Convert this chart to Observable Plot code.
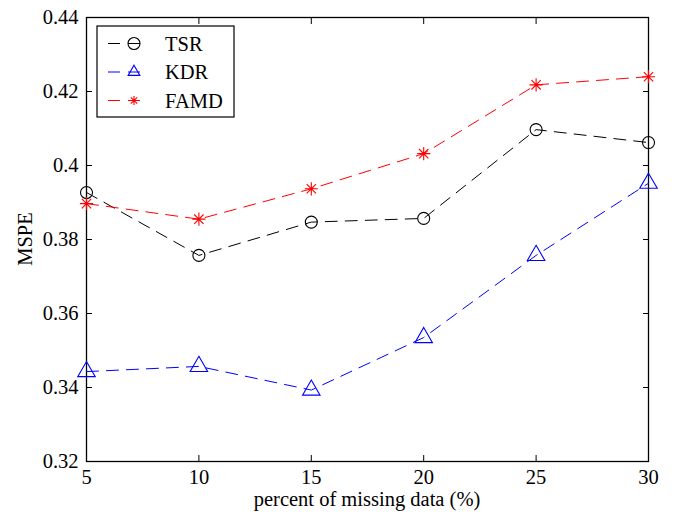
<!DOCTYPE html>
<html>
<head>
<meta charset="utf-8">
<script src="https://cdn.jsdelivr.net/npm/d3@7"></script>
<script src="https://cdn.jsdelivr.net/npm/@observablehq/plot@0.6"></script>
<style>
  html, body { margin: 0; padding: 0; background: #fff; }
  #chart { position: relative; width: 674px; height: 512px; }
  #chart svg text { font-family: 'Liberation Serif', 'Times New Roman', serif; }
</style>
</head>
<body>
<div id="chart"></div>
<script>
const missing = [5, 10, 15, 20, 25, 30];
const tsr  = [0.3927, 0.3757, 0.3847, 0.3857, 0.4097, 0.4062];
const kdr  = [0.3443, 0.3457, 0.3393, 0.3535, 0.3757, 0.3952];
const famd = [0.3897, 0.3855, 0.3937, 0.4032, 0.4218, 0.4240];
const seriesNames = ["TSR", "KDR", "FAMD"];
const seriesColors = ["#000000", "#0000ff", "#ff0000"];
const xTicks = [5, 10, 15, 20, 25, 30];
const yTicks = [0.32, 0.34, 0.36, 0.38, 0.40, 0.42, 0.44];

const asterisk8 = {
  draw(ctx, size) {
    const r = Math.sqrt(size) * 0.62;
    const d = r * Math.SQRT1_2;
    ctx.moveTo(-r, 0); ctx.lineTo(r, 0);
    ctx.moveTo(0, -r); ctx.lineTo(0, r);
    ctx.moveTo(-d, -d); ctx.lineTo(d, d);
    ctx.moveTo(-d, d); ctx.lineTo(d, -d);
  }
};
const symbols = [d3.symbolCircle, d3.symbolTriangle, asterisk8];

const rows = [];
[tsr, kdr, famd].forEach((vals, i) => {
  vals.forEach((v, j) => rows.push({series: seriesNames[i], x: missing[j], y: v}));
});

const font = "'Liberation Serif', 'Times New Roman', serif";
const fs = 20.5;
const marks = [];
seriesNames.forEach((name, i) => {
  const data = rows.filter(d => d.series === name);
  marks.push(Plot.line(data, {x: "x", y: "y", stroke: seriesColors[i], strokeWidth: 1, strokeDasharray: "12,8"}));
  marks.push(Plot.dot(data, {x: "x", y: "y", stroke: seriesColors[i], strokeWidth: 1.1, fill: "none",
    symbol: () => symbols[i], r: i === 1 ? 6.5 : 6}));
});

const plot = Plot.plot({
  width: 674,
  height: 512,
  marginLeft: 86,
  marginRight: 26,
  marginTop: 17,
  marginBottom: 51,
  style: {fontFamily: font, fontSize: fs + "px", color: "#000", background: "#fff"},
  x: {domain: [5, 30], ticks: xTicks},
  y: {domain: [0.32, 0.44], ticks: yTicks},
  symbol: {type: "identity"},
  marks: [
    Plot.axisX(xTicks, {anchor: "bottom", tickSize: 0, tickPadding: 8, label: null,
      fontSize: fs, fontFamily: font}),
    Plot.axisX(xTicks, {anchor: "bottom", tickSize: -6, text: null, label: null}),
    Plot.axisX(xTicks, {anchor: "top", tickSize: -6, text: null, label: null}),
    Plot.axisY(yTicks, {anchor: "left", tickSize: 0, tickPadding: 8, label: null,
      fontSize: fs, fontFamily: font, tickFormat: d => String(+d.toFixed(2))}),
    Plot.axisY(yTicks, {anchor: "left", tickSize: -6, text: null, label: null}),
    Plot.axisY(yTicks, {anchor: "right", tickSize: -6, text: null, label: null}),
    Plot.frame({stroke: "#000", strokeWidth: 1.3}),
    ...marks
  ]
});

document.getElementById("chart").appendChild(plot);

// Axis titles and legend appended into the SVG
const svg = d3.select(plot);
svg.append("text")
  .attr("x", 367).attr("y", 506)
  .attr("text-anchor", "middle")
  .style("font-family", font).style("font-size", fs + "px")
  .text("percent of missing data (%)");
svg.append("text")
  .attr("transform", "translate(32,239) rotate(-90)")
  .attr("text-anchor", "middle")
  .style("font-family", font).style("font-size", fs + "px")
  .text("MSPE");

const lg = svg.append("g").attr("transform", "translate(97,26)");
lg.append("rect").attr("width", 137).attr("height", 91)
  .attr("fill", "#fff").attr("stroke", "#000").attr("stroke-width", 1.2);
seriesNames.forEach((name, i) => {
  const g = lg.append("g").attr("transform", `translate(0,${17.5 + i * 28.5})`);
  g.append("line").attr("x1", 11).attr("x2", 51).attr("stroke", seriesColors[i])
    .attr("stroke-width", 1).attr("stroke-dasharray", "12,8");
  g.append("path").attr("transform", "translate(37,0)")
    .attr("d", d3.symbol(symbols[i], i === 1 ? 60 : (i === 2 ? 54 : 113))())
    .attr("fill", "none").attr("stroke", seriesColors[i]).attr("stroke-width", 1.1);
  g.append("text").attr("x", 68).attr("y", 7)
    .attr("text-anchor", "start")
    .style("font-family", font).style("font-size", fs + "px")
    .text(name);
});
</script>
</body>
</html>
